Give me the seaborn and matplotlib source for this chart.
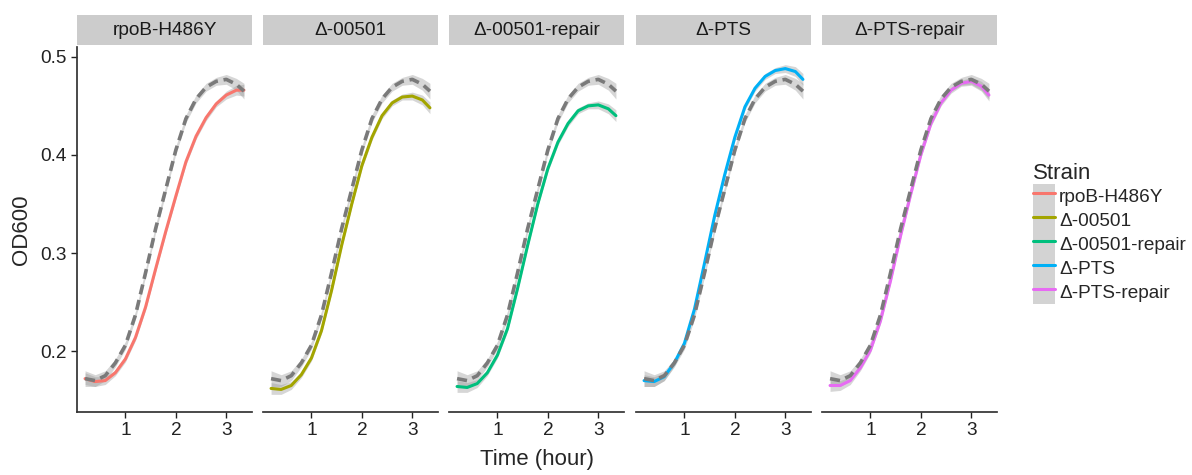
import numpy as np
import pandas as pd
import matplotlib
matplotlib.use("Agg")
import matplotlib.pyplot as plt
import seaborn as sns
from matplotlib.lines import Line2D
from matplotlib.patches import Patch, Rectangle

# time grid (hours)
time_h = [0.2, 0.4, 0.6, 0.8, 1.0, 1.2, 1.4, 1.6, 1.8, 2.0, 2.2, 2.4, 2.6, 2.8, 3.0, 3.2, 3.35]

strains = ["rpoB-H486Y", "Δ-00501", "Δ-00501-repair", "Δ-PTS", "Δ-PTS-repair"]

# reference (wild type) curve, dashed grey in every panel
od_ref = [0.172, 0.170, 0.175, 0.188, 0.206, 0.237, 0.280, 0.325, 0.365, 0.405,
          0.437, 0.457, 0.469, 0.475, 0.477, 0.472, 0.465]
se_ref = [0.008, 0.006, 0.005, 0.004, 0.004, 0.004, 0.004, 0.004, 0.004, 0.004,
          0.004, 0.004, 0.004, 0.004, 0.005, 0.006, 0.008]

od_rpoB = [0.172, 0.169, 0.170, 0.178, 0.192, 0.214, 0.245, 0.284, 0.322, 0.358,
           0.393, 0.419, 0.438, 0.452, 0.461, 0.466, 0.466]
od_00501 = [0.162, 0.161, 0.165, 0.176, 0.193, 0.221, 0.262, 0.308, 0.350, 0.389,
            0.418, 0.440, 0.453, 0.459, 0.460, 0.456, 0.448]
od_00501_rep = [0.164, 0.163, 0.167, 0.178, 0.196, 0.223, 0.264, 0.308, 0.350, 0.386,
                0.413, 0.432, 0.445, 0.450, 0.451, 0.447, 0.440]
od_pts = [0.170, 0.169, 0.174, 0.188, 0.208, 0.243, 0.290, 0.338, 0.380, 0.418,
          0.449, 0.468, 0.480, 0.486, 0.488, 0.485, 0.477]
od_pts_rep = [0.165, 0.165, 0.170, 0.183, 0.201, 0.231, 0.272, 0.318, 0.360, 0.400,
              0.432, 0.453, 0.466, 0.473, 0.475, 0.470, 0.461]
se_strain = [0.006, 0.005, 0.004, 0.003, 0.003, 0.003, 0.003, 0.003, 0.003, 0.003,
             0.003, 0.003, 0.003, 0.003, 0.004, 0.005, 0.006]

strain_od = [od_rpoB, od_00501, od_00501_rep, od_pts, od_pts_rep]
colors = ["#F8766D", "#A3A500", "#00BF7D", "#00B0F6", "#E76BF3"]

rows = []
for name, vals in zip(strains, strain_od):
    for t, v, s in zip(time_h, vals, se_strain):
        rows.append({"Strain": name, "time": t, "OD600": v, "se": s})
df = pd.DataFrame(rows)
ref_df = pd.DataFrame({"time": time_h, "OD600": od_ref, "se": se_ref})

sns.set_theme(style="ticks")
plt.rcParams["font.family"] = ["Liberation Sans", "DejaVu Sans"]

fig = plt.figure(figsize=(11.92, 4.75), dpi=100)
W, H = 1192, 475
panel_left = [77, 263, 449, 636, 822]
panel_w = 175
top_px, bot_px = 47, 412
small = 13.7
big = 16

for i, name in enumerate(strains):
    ax = fig.add_axes([panel_left[i] / W, 1 - bot_px / H, panel_w / W, (bot_px - top_px) / H])
    sub = df[df["Strain"] == name]
    ax.fill_between(sub["time"], sub["OD600"] - sub["se"], sub["OD600"] + sub["se"],
                    color="#999999", alpha=0.4, lw=0)
    sns.lineplot(data=sub, x="time", y="OD600", color=colors[i], lw=2.2,
                 errorbar=None, ax=ax)
    ax.fill_between(ref_df["time"], ref_df["OD600"] - ref_df["se"],
                    ref_df["OD600"] + ref_df["se"], color="#999999", alpha=0.4, lw=0)
    sns.lineplot(data=ref_df, x="time", y="OD600", color="#7a7a7a", lw=2.6,
                 errorbar=None, ax=ax, linestyle=(0, (2.8, 1.6)))

    ax.set_xlim(0.04, 3.51)
    ax.set_ylim(0.138, 0.510)
    ax.set_xticks([1, 2, 3])
    ax.set_yticks([0.2, 0.3, 0.4, 0.5])
    ax.set_xlabel("")
    ax.set_ylabel("")
    ax.tick_params(labelsize=small, colors="#222222", length=4, width=1)
    for sp in ["top", "right"]:
        ax.spines[sp].set_visible(False)
    ax.spines["bottom"].set_color("#333333")
    ax.spines["left"].set_color("#333333")
    if i > 0:
        ax.spines["left"].set_visible(False)
        ax.tick_params(axis="y", left=False, labelleft=False)
    else:
        ax.set_ylabel("OD600", fontsize=big, labelpad=6)

    # facet strip
    ax.add_patch(Rectangle((0, 1.0055), 1, 0.082, transform=ax.transAxes,
                           clip_on=False, facecolor="#cccccc", edgecolor="none"))
    ax.text(0.5, 1.0055 + 0.041, name, transform=ax.transAxes, ha="center",
            va="center", fontsize=small, color="#1a1a1a")

fig.text((77 + 997) / 2 / W, 1 - 460 / H, "Time (hour)", ha="center", va="center",
         fontsize=big)

handles = [(Patch(facecolor="#d3d3d3", edgecolor="none"),
            Line2D([], [], color=c, lw=2.2)) for c in colors]
leg = fig.legend(handles, strains, title="Strain", loc="upper left",
                 bbox_to_anchor=(1023 / W, 1 - 153 / H), frameon=False,
                 fontsize=small, title_fontsize=big, handlelength=1.19,
                 handleheight=1.57, labelspacing=0.0, handletextpad=0.2,
                 borderpad=0, alignment="left")

fig.savefig("out.png", dpi=100)
